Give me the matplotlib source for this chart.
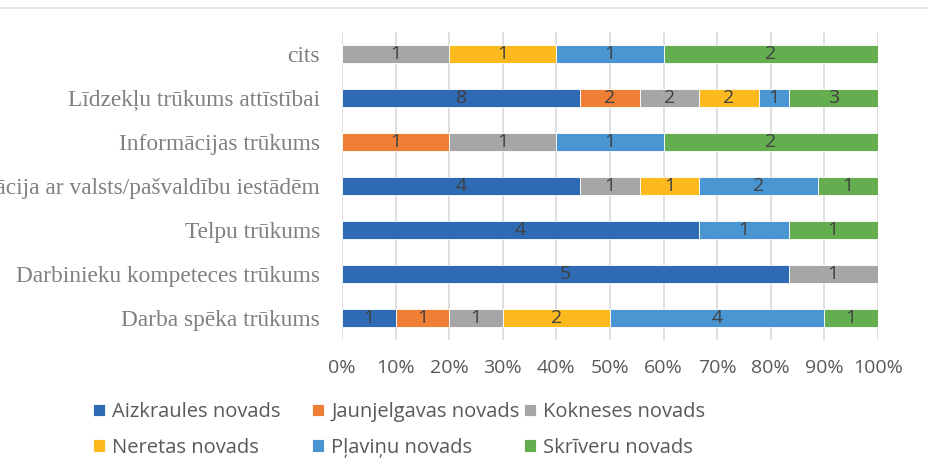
import matplotlib.pyplot as plt
import numpy as np
from matplotlib.lines import Line2D

# Dati (no apakšas uz augšu)
categories = [
    "Darba spēka trūkums",
    "Darbinieku kompeteces trūkums",
    "Telpu trūkums",
    "Komunikācija ar valsts/pašvaldību iestādēm",
    "Informācijas trūkums",
    "Līdzekļu trūkums attīstībai",
    "cits",
]
series_names = ["Aizkraules novads", "Jaunjelgavas novads", "Kokneses novads",
                "Neretas novads", "Pļaviņu novads", "Skrīveru novads"]
aizkraules = [1, 5, 4, 4, 0, 8, 0]
jaunjelgavas = [1, 0, 0, 0, 1, 2, 0]
kokneses = [1, 1, 0, 1, 1, 2, 1]
neretas = [2, 0, 0, 1, 0, 2, 1]
plavinu = [4, 0, 1, 2, 1, 1, 1]
skriveru = [1, 0, 1, 1, 2, 3, 2]
colors = ["#2F6BB5", "#F07F36", "#A6A6A6", "#FDBA1F", "#4A96D2", "#65AE4F"]

data = np.array([aizkraules, jaunjelgavas, kokneses, neretas, plavinu, skriveru], dtype=float)
totals = data.sum(axis=0)
shares = data / totals

fig = plt.figure(figsize=(9.27, 4.68), dpi=100)
ax = fig.add_axes([0.369, 0.274, 0.578, 0.658])

y = np.arange(len(categories))
left = np.zeros(len(categories))
handles = []
for i, name in enumerate(series_names):
    bars = ax.barh(y, shares[i], left=left, height=0.41, color=colors[i],
                   edgecolor="white", linewidth=0.6, label=name, zorder=3)
    handles.append(bars)
    for j, b in enumerate(bars):
        if data[i, j] > 0:
            ax.text(left[j] + shares[i, j] / 2, y[j], f"{int(data[i, j])}",
                    ha="center", va="center", fontsize=14, color="#404040",
                    family="Open Sans", zorder=4)
    left += shares[i]

ax.set_xlim(0, 1)
ax.set_ylim(-0.5, len(categories) - 0.5)
ax.set_xticks(np.linspace(0, 1, 11))
ax.set_xticklabels([f"{k}%" for k in range(0, 101, 10)], family="Open Sans",
                   fontsize=14, color="#595959")
ax.set_yticks(y)
ax.set_yticklabels(categories, family="Liberation Serif", fontsize=16.8, color="#808080")
ax.tick_params(axis="y", length=0, pad=16)
ax.tick_params(axis="x", length=0, pad=14)
ax.grid(axis="x", color="#D9D9D9", linewidth=1.2, zorder=0)
for s in ax.spines.values():
    s.set_visible(False)

# augšējā līnija
fig.add_artist(Line2D([0, 1], [0.983, 0.983], color="#E0E0E0", linewidth=1.2,
                      transform=fig.transFigure))

# leģenda: trīs kolonnas, katra atsevišķi
col_x = [93, 312, 524]
for c in range(3):
    hs = [handles[c], handles[c + 3]]
    leg = fig.legend(hs, [series_names[c], series_names[c + 3]], loc="upper left",
                     bbox_to_anchor=(col_x[c] / 927, 1 - 402 / 468), frameon=False,
                     prop={"family": "Open Sans", "size": 14.5}, handlelength=0.6,
                     handleheight=0.6, handletextpad=0.35, borderpad=0,
                     borderaxespad=0, labelspacing=0.78)
    for t in leg.get_texts():
        t.set_color("#595959")

fig.savefig("out.png", dpi=100)
